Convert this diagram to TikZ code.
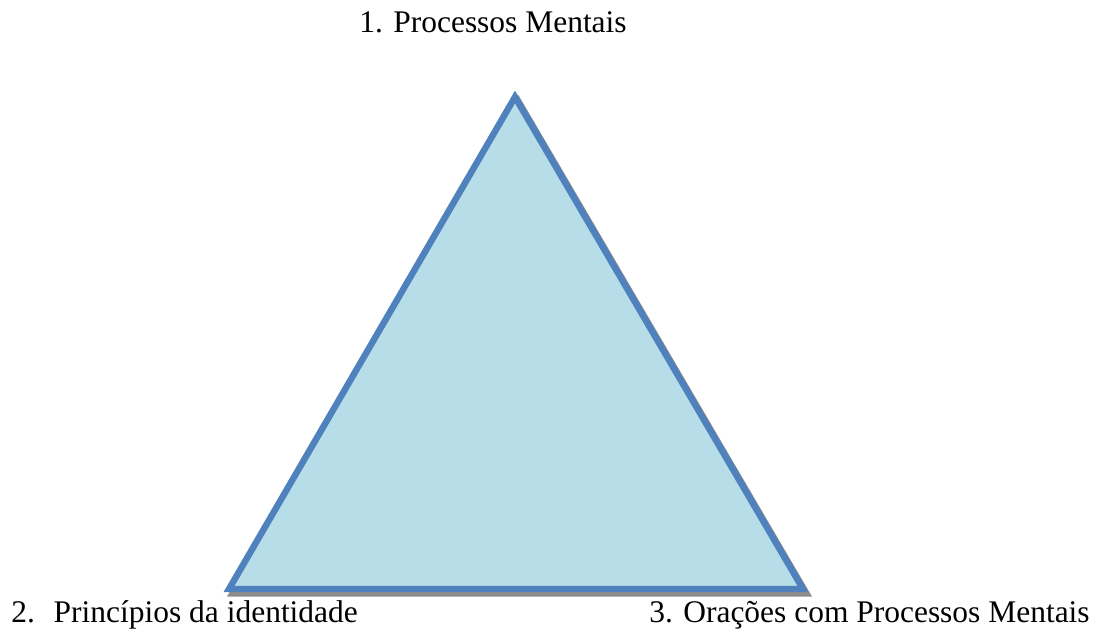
\documentclass[tikz,border=0pt]{standalone}
\usepackage{fontspec}
\setmainfont{Liberation Serif}
\definecolor{triblue}{HTML}{4F81BD}
\definecolor{trifill}{HTML}{B7DDE8}
\definecolor{trishadow}{HTML}{8C8C8C}
\tikzset{
  lbl/.style={font=\fontsize{23.6}{28}\selectfont, inner sep=0pt, anchor=base west},
  tri/.style={draw=triblue, line width=4.8pt, fill=trifill, line join=miter},
  trish/.style={fill=trishadow, draw=trishadow, line width=4.8pt}
}
\begin{document}
\begin{tikzpicture}[x=0.75pt,y=-0.75pt]
\useasboundingbox (0,0) rectangle (1109,633);
\coordinate (A) at (515,97);
\coordinate (B) at (229,589);
\coordinate (C) at (803,589);
\draw[trish] ([shift={(3.5,4.5)}]A) -- ([shift={(3.5,4.5)}]B) -- ([shift={(3.5,4.5)}]C) -- cycle;
\draw[tri] (A) -- (B) -- (C) -- cycle;
\node[lbl] (t1) at (359,32) {1. Processos Mentais};
\node[lbl] (t2) at (11,622) {2.\hspace{0.6em}Princípios da identidade};
\node[lbl] (t3) at (649,622) {3. Orações com Processos Mentais};
\end{tikzpicture}
\end{document}
